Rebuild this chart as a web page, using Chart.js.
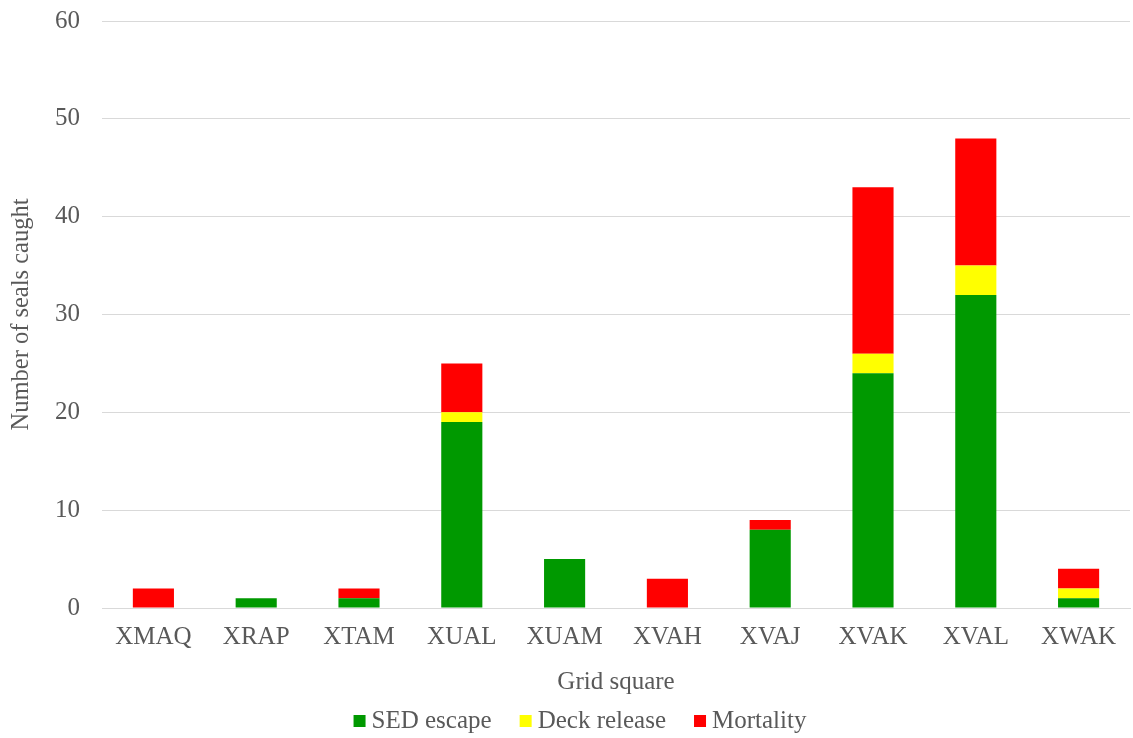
<!DOCTYPE html>
<html>
<head>
<meta charset="utf-8">
<script src="https://cdn.jsdelivr.net/npm/chart.js@4.4.1/dist/chart.umd.min.js"></script>
<style>
  html, body { margin: 0; padding: 0; background: #ffffff; }
  #wrap { width: 1133px; height: 738px; position: relative; }
</style>
</head>
<body>
<div id="wrap"><canvas id="c"></canvas></div>
<script>
// Seal catch outcomes by grid square
const gridSquares = ['XMAQ', 'XRAP', 'XTAM', 'XUAL', 'XUAM', 'XVAH', 'XVAJ', 'XVAK', 'XVAL', 'XWAK'];
const sedEscape   = [0, 1, 1, 19, 5, 0, 8, 24, 32, 1];
const deckRelease = [0, 0, 0, 1, 0, 0, 0, 2, 3, 1];
const mortality   = [2, 0, 1, 5, 0, 3, 1, 17, 13, 2];
const yTicks      = [0, 10, 20, 30, 40, 50, 60];

const textColor = '#595959';
const fontFamily = '"Liberation Serif", "Times New Roman", serif';
const fontSize = 25;

// Legend row under the axis title: small square swatch, tight gap, then label
const bottomLegend = {
  id: 'bottomLegend',
  afterDraw(chart) {
    const ctx = chart.ctx;
    const box = 12, gap = 6, spacing = 28;
    const centerX = 580, centerY = 721;
    ctx.save();
    ctx.font = fontSize + 'px ' + fontFamily;
    ctx.textBaseline = 'middle';
    const items = chart.data.datasets.map(ds => ({
      text: ds.label, color: ds.backgroundColor, w: ctx.measureText(ds.label).width
    }));
    const total = items.reduce((s, it) => s + box + gap + it.w, 0) + spacing * (items.length - 1);
    let x = centerX - total / 2;
    items.forEach(it => {
      ctx.fillStyle = it.color;
      ctx.fillRect(x, centerY - box / 2, box, box);
      ctx.fillStyle = textColor;
      ctx.fillText(it.text, x + box + gap, centerY);
      x += box + gap + it.w + spacing;
    });
    ctx.restore();
  }
};

new Chart(document.getElementById('c'), {
  type: 'bar',
  data: {
    labels: gridSquares,
    datasets: [
      { label: 'SED escape',   data: sedEscape,   backgroundColor: '#009900' },
      { label: 'Deck release', data: deckRelease, backgroundColor: '#ffff00' },
      { label: 'Mortality',    data: mortality,   backgroundColor: '#ff0000' }
    ]
  },
  plugins: [bottomLegend],
  options: {
    responsive: true,
    maintainAspectRatio: false,
    animation: false,
    layout: { padding: { top: 21, right: 3, left: 0, bottom: 41 } },
    datasets: { bar: { barPercentage: 0.4, categoryPercentage: 1.0, borderWidth: 0 } },
    plugins: {
      legend: { display: false },
      tooltip: { enabled: false }
    },
    scales: {
      x: {
        stacked: true,
        grid: { display: false, drawTicks: false },
        border: { color: '#d9d9d9', width: 1 },
        ticks: { color: textColor, font: { family: fontFamily, size: fontSize }, padding: 14, maxRotation: 0 },
        title: { display: true, text: 'Grid square', color: textColor,
                 font: { family: fontFamily, size: fontSize }, padding: { top: 1, bottom: 0 } }
      },
      y: {
        stacked: true,
        min: yTicks[0], max: yTicks[yTicks.length - 1],
        afterBuildTicks: (axis) => { axis.ticks = yTicks.map(v => ({ value: v })); },
        afterFit: (axis) => { axis.width = 102; axis.paddingTop = 0; },
        grid: { color: '#d9d9d9', drawTicks: false },
        border: { display: false },
        ticks: { color: textColor, font: { family: fontFamily, size: fontSize }, padding: 22 },
        title: { display: true, text: 'Number of seals caught', color: textColor,
                 font: { family: fontFamily, size: 24.5 }, padding: { top: 7, bottom: 0 } }
      }
    }
  }
});
</script>
</body>
</html>
